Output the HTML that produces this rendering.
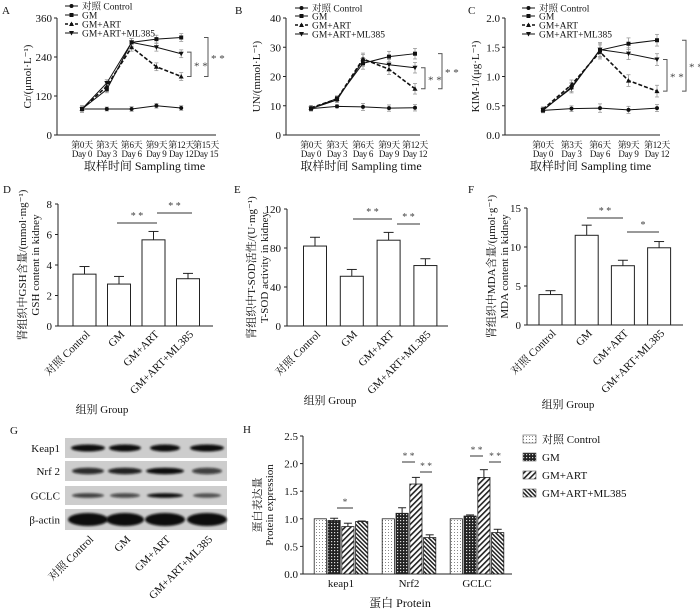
<!DOCTYPE html>
<html><head><meta charset="utf-8"><style>
html,body{margin:0;padding:0;background:#fff;}
svg{display:block;font-family:"Liberation Serif","Noto Serif CJK SC","Noto Sans CJK SC",serif;}
</style></head><body>
<svg id="fig" width="700" height="611" viewBox="0 0 700 611" xmlns="http://www.w3.org/2000/svg">
<defs>
<pattern id="pDot" width="3" height="3" patternUnits="userSpaceOnUse"><rect width="3" height="3" fill="#fff"/><rect x="1" y="1" width="1" height="1" fill="#888"/></pattern>
<pattern id="pCheck" width="3" height="3" patternUnits="userSpaceOnUse"><rect width="3" height="3" fill="#222"/><rect x="1" y="1" width="1.2" height="1.2" fill="#ddd"/></pattern>
<pattern id="pFwd" width="4" height="4" patternUnits="userSpaceOnUse" patternTransform="rotate(45)"><rect width="4" height="4" fill="#fff"/><rect width="1.6" height="4" fill="#222"/></pattern>
<pattern id="pBack" width="3" height="3" patternUnits="userSpaceOnUse" patternTransform="rotate(-45)"><rect width="3" height="3" fill="#fff"/><rect width="1.5" height="3" fill="#222"/></pattern>
<filter id="blur" x="-20%" y="-60%" width="140%" height="220%"><feGaussianBlur stdDeviation="1.1"/></filter>
</defs>
</svg>
<script>
// ---------- Panel A data (Cr) ----------
const dayLabelsCn = ['第0天','第3天','第6天','第9天','第12天','第15天'];
const dayLabelsEn = ['Day 0','Day 3','Day 6','Day 9','Day 12','Day 15'];
const seriesNames = ['对照 Control','GM','GM+ART','GM+ART+ML385'];
const crTicks = [0,120,240,360];
const crControl = [80,80,80,90,83];
const crGM = [80,140,285,295,300];
const crART = [80,150,270,210,180];
const crML = [80,160,285,270,250];
const crErr = [10,10,12,12,12];
// ---------- Panel B data (UN) ----------
const unTicks = [0,10,20,30,40];
const unControl = [9,9.8,9.6,9.2,9.3];
const unGM = [9,12.5,24.5,26.8,27.8];
const unART = [9.3,12.3,26,22.5,15.8];
const unML = [9,12,25.5,24,23];
const unErr = [0.8,0.9,2,1.8,1.8];
// ---------- Panel C data (KIM-1) ----------
const kimTicks = [0,0.5,1.0,1.5,2.0];
const kimControl = [0.42,0.45,0.46,0.43,0.46];
const kimGM = [0.42,0.82,1.45,1.56,1.62];
const kimART = [0.44,0.86,1.42,0.93,0.75];
const kimML = [0.43,0.80,1.46,1.39,1.29];
const kimErr = [0.04,0.08,0.12,0.1,0.1];
// ---------- Bar panels ----------
const groups = ['对照 Control','GM','GM+ART','GM+ART+ML385'];
const gshTicks = [0,2,4,6,8];
const gshValues = [3.4,2.75,5.65,3.1];
const gshErrors = [0.5,0.5,0.55,0.35];
const sodTicks = [0,40,80,120];
const sodValues = [82,51,88,62];
const sodErrors = [9,7,8,7];
const mdaTicks = [0,5,10,15];
const mdaValues = [3.9,11.5,7.6,9.9];
const mdaErrors = [0.5,1.3,0.7,0.8];
// ---------- Panel H ----------
const proteins = ['keap1','Nrf2','GCLC'];
const protTicks = [0,0.5,1.0,1.5,2.0,2.5];
const protControl = [1.0,1.0,1.0];
const protGM = [0.97,1.1,1.05];
const protART = [0.86,1.63,1.75];
const protML = [0.95,0.66,0.75];
const protErrGM = [0.04,0.1,0.02];
const protErrART = [0.06,0.12,0.14];
const protErrML = [0.01,0.05,0.06];

const NS='http://www.w3.org/2000/svg';
const svg=document.getElementById('fig');
function mk(tag,attrs,name,parent){
  const el=document.createElementNS(NS,tag);
  for(const k in attrs) el.setAttribute(k,attrs[k]);
  
  
  (parent||svg).appendChild(el);
  return el;
}
function txt(x,y,s,name,size,anchor,extra){
  const a={x:x,y:y,'font-size':size||10,'text-anchor':anchor||'middle',fill:'#111'};
  if(extra) for(const k in extra) a[k]=extra[k];
  const t=mk('text',a,name);
  t.textContent=s;
  return t;
}
function line(x1,y1,x2,y2,name,col,w,dash){
  const a={x1:x1,y1:y1,x2:x2,y2:y2,stroke:col||'#222','stroke-width':w||1};
  if(dash) a['stroke-dasharray']=dash;
  return mk('line',a,name);
}
function marker(x,y,k,name){
  if(k===0) return mk('circle',{cx:x,cy:y,r:2,fill:'#111'},name);
  if(k===1) return mk('rect',{x:x-2,y:y-2,width:4,height:4,fill:'#111'},name);
  if(k===2) return mk('polygon',{points:`${x},${y-2.5} ${x-2.5},${y+2} ${x+2.5},${y+2}`,fill:'#111'},name);
  return mk('polygon',{points:`${x},${y+2.5} ${x-2.5},${y-2} ${x+2.5},${y-2}`,fill:'#111'},name);
}

function lineChart(c){
  const ys=v=>c.yBot-(v/c.max)*(c.yBot-c.yTop);
  const xs=i=>c.x0+c.dx*i;
  txt(c.letterX,14,c.letter,'panel-label-'+c.letter,11,'start');
  line(c.axX,c.yTop,c.axX,c.yBot,'y-axis-'+c.letter);
  line(c.axX,c.yBot,c.axEnd,c.yBot,'x-axis-'+c.letter);
  c.ticks.forEach(t=>{
    line(c.axX-3,ys(t),c.axX,ys(t),'y-tick');
    txt(c.axX-5,ys(t)+4,c.fmt(t),'y-tick-label',11,'end');
  });
  for(let i=0;i<c.nDays;i++){
    txt(xs(i),148,dayLabelsCn[i],'x-tick-label-cn',9,'middle',{'letter-spacing':'-0.3'});
    txt(xs(i),157,dayLabelsEn[i],'x-tick-label-en',9,'middle',{'letter-spacing':'-0.3'});
  }
  txt((c.axX+c.axEnd)/2+8,170,'取样时间  Sampling time','x-axis-title',12);
  txt(0,0,c.ylabel,'y-axis-title',11,'middle',{transform:`translate(${c.axX-26},${(c.yTop+c.yBot)/2}) rotate(-90)`});
  const series=[c.s0,c.s1,c.s2,c.s3];
  const names=['control-line','gm-line','gm-art-line','gm-art-ml385-line'];
  series.forEach((s,k)=>{
    s.forEach((v,i)=>{
      const e=c.err[i]*(k===0?0.6:1);
      line(xs(i),ys(v+e),xs(i),ys(v-e),'error-bar','#999',0.8);
      line(xs(i)-2,ys(v+e),xs(i)+2,ys(v+e),'error-cap','#999',0.8);
      line(xs(i)-2,ys(v-e),xs(i)+2,ys(v-e),'error-cap','#999',0.8);
    });
  });
  series.forEach((s,k)=>{
    const pts=s.map((v,i)=>xs(i)+','+ys(v)).join(' ');
    const a={points:pts,fill:'none',stroke:'#111','stroke-width':k===2?1.6:1};
    if(k===2) a['stroke-dasharray']='4,2';
    mk('polyline',a,names[k]);
    s.forEach((v,i)=>marker(xs(i),ys(v),k,names[k]+'-point'));
  });
  seriesNames.forEach((n,k)=>{
    const y=c.legY[k];
    line(c.legX,y,c.legX+13,y,'legend-line','#111',k===2?1.6:1,k===2?'3,2':null);
    marker(c.legX+6.5,y,k,'legend-marker');
    txt(c.legX+17,y+3.5,n,'legend-entry',9.5,'start');
  });
  c.brackets.forEach(b=>{
    const y1=ys(b[0]),y2=ys(b[1]);
    mk('polyline',{points:`${b[2]-4},${y1} ${b[2]},${y1} ${b[2]},${y2} ${b[2]-4},${y2}`,fill:'none',stroke:'#555','stroke-width':1},'significance-bracket');
    txt(b[2]+3,(y1+y2)/2+5,'* *','significance-label',11,'start',{fill:'#444'});
  });
}

lineChart({letter:'A',letterX:2,axX:57,axEnd:216,yTop:18,yBot:135,max:360,ticks:crTicks,fmt:t=>String(t),
  x0:82,dx:24.8,nDays:6,ylabel:'Cr/(μmol·L⁻¹)',s0:crControl,s1:crGM,s2:crART,s3:crML,err:crErr,
  legX:65,legY:[6,15,24,33],brackets:[[255,180,191],[300,180,208]]});
lineChart({letter:'B',letterX:235,axX:286,axEnd:420,yTop:18,yBot:135,max:40,ticks:unTicks,fmt:t=>String(t),
  x0:311,dx:26,nDays:5,ylabel:'UN/(mmol·L⁻¹)',s0:unControl,s1:unGM,s2:unART,s3:unML,err:unErr,
  legX:295,legY:[8,16,25,34],brackets:[[23,15.8,425],[27.8,15.8,442]]});
lineChart({letter:'C',letterX:468,axX:505,axEnd:660,yTop:18,yBot:135,max:2,ticks:kimTicks,fmt:t=>t.toFixed(1),
  x0:543,dx:28.5,nDays:5,ylabel:'KIM-1/(μg·L⁻¹)',s0:kimControl,s1:kimGM,s2:kimART,s3:kimML,err:kimErr,
  legX:522,legY:[8,16,25,34],brackets:[[1.29,0.75,667],[1.62,0.75,686]]});

function barChart(c){
  const ys=v=>c.yBot-(v/c.max)*(c.yBot-c.yTop);
  const bx=i=>c.x0+c.dx*i;
  txt(c.letterX,c.letterY,c.letter,'panel-label-'+c.letter,11,'start');
  line(c.axX,c.yTop,c.axX,c.yBot,'y-axis-'+c.letter);
  line(c.axX,c.yBot,c.axEnd,c.yBot,'x-axis-'+c.letter);
  c.ticks.forEach(t=>{
    line(c.axX-3,ys(t),c.axX,ys(t),'y-tick');
    txt(c.axX-6,ys(t)+4,String(t),'y-tick-label',11,'end');
  });
  c.values.forEach((v,i)=>{
    const cx=bx(i),e=c.errors[i];
    line(cx,ys(v),cx,ys(v+e),'error-bar','#222',1);
    line(cx-5,ys(v+e),cx+5,ys(v+e),'error-cap','#222',1);
    mk('rect',{x:cx-11.5,y:ys(v),width:23,height:c.yBot-ys(v),fill:'#fff',stroke:'#222','stroke-width':1},'bar-'+c.letter+'-'+i);
    txt(0,0,groups[i],'x-tick-label',11,'end',{transform:`translate(${cx+6},${c.yBot+9}) rotate(-45)`});
  });
  c.sig.forEach(s=>{
    line(s[0],s[2],s[1],s[2],'significance-line','#333',1);
    txt((s[0]+s[1])/2,s[2]-4,s[3],'significance-label',10,'middle',{fill:'#444'});
  });
  txt(0,0,c.yl1,'y-axis-title-cn',11,'middle',{transform:`translate(${c.axX-32},${(c.yTop+c.yBot)/2}) rotate(-90)`});
  txt(0,0,c.yl2,'y-axis-title-en',11,'middle',{transform:`translate(${c.axX-19},${(c.yTop+c.yBot)/2}) rotate(-90)`});
  txt(c.gx,c.gy,'组别 Group','x-axis-title',11);
}
barChart({letter:'D',letterX:3,letterY:193,axX:58,axEnd:213,yTop:204,yBot:326,max:8,ticks:gshTicks,
  x0:84.5,dx:34.5,values:gshValues,errors:gshErrors,
  sig:[[117,157,223,'* *'],[157,192,213,'* *']],yl1:'肾组织中GSH含量/(mmol·mg⁻¹)',yl2:'GSH content in kidney',gx:102,gy:413});
barChart({letter:'E',letterX:234,letterY:193,axX:287,axEnd:448,yTop:209,yBot:326,max:120,ticks:sodTicks,
  x0:315,dx:36.8,values:sodValues,errors:sodErrors,
  sig:[[353,392,219,'* *'],[397,420,224,'* *']],yl1:'肾组织中T-SOD活性/(U·mg⁻¹)',yl2:'T-SOD activity in kidney',gx:330,gy:404});
barChart({letter:'F',letterX:468,letterY:193,axX:527,axEnd:683,yTop:208,yBot:325,max:15,ticks:mdaTicks,
  x0:550.5,dx:36.2,values:mdaValues,errors:mdaErrors,
  sig:[[587,623,218,'* *'],[627,659,232,'*']],yl1:'肾组织中MDA含量/(μmol·g⁻¹)',yl2:'MDA content in kidney',gx:568,gy:408});

// ---------- Panel G: western blot ----------
txt(10,434,'G','panel-label-G',11,'start');
const blotRows=['Keap1','Nrf 2','GCLC','β-actin'];
const blotY=[438,461,486,509];
const blotH=[20,20,19,21];
const laneX=[88,125,165,207];
const bandI=[[1,1,1,1],[0.85,0.9,1,0.75],[0.75,0.7,1,0.6],[1,1,1,1]];
const bandW=[[34,32,30,34],[32,34,38,30],[32,30,36,28],[40,38,40,40]];
const bandT=[7,6.5,4.5,13];
blotRows.forEach((r,j)=>{
  mk('rect',{x:65,y:blotY[j],width:162,height:blotH[j],fill:'#cdcdcd'},'blot-row-'+j);
  txt(60,blotY[j]+blotH[j]/2+4,r,'blot-label',11,'end');
  laneX.forEach((lx,i)=>{
    mk('ellipse',{cx:lx,cy:blotY[j]+blotH[j]/2,rx:bandW[j][i]/2,ry:bandT[j]/2,fill:'#0a0a0a','fill-opacity':bandI[j][i],filter:'url(#blur)'},'blot-band');
  });
});
groups.forEach((g,i)=>txt(0,0,g,'blot-lane-label',11,'end',{transform:`translate(${laneX[i]+6},${540}) rotate(-45)`}));

// ---------- Panel H ----------
txt(243,433,'H','panel-label-H',11,'start');
const hX=303,hEnd=512,hTop=436,hBot=574,hMax=2.5;
const hy=v=>hBot-(v/hMax)*(hBot-hTop);
const gc=i=>341+68*i;
line(hX,hTop,hX,hBot,'y-axis-H');
line(hX,hBot,hEnd,hBot,'x-axis-H');
protTicks.forEach(t=>{
  line(hX-3,hy(t),hX,hy(t),'y-tick');
  txt(hX-5,hy(t)+4,t.toFixed(1),'y-tick-label',11,'end');
});
const pSeries=[protControl,protGM,protART,protML];
const pErr=[null,protErrGM,protErrART,protErrML];
const fills=['url(#pDot)','url(#pCheck)','url(#pFwd)','url(#pBack)'];
const bw=12.2,step=13.8;
proteins.forEach((p,i)=>{
  pSeries.forEach((s,k)=>{
    const x=gc(i)-2*step+k*step+0.8;
    const v=s[i];
    if(pErr[k]){
      const e=pErr[k][i];
      line(x+bw/2,hy(v),x+bw/2,hy(v+e),'error-bar','#222',1);
      line(x+bw/2-4,hy(v+e),x+bw/2+4,hy(v+e),'error-cap','#222',1);
    }
    mk('rect',{x:x,y:hy(v),width:bw,height:hBot-hy(v),fill:fills[k],stroke:'#222','stroke-width':0.8},'bar-'+p+'-'+k);
  });
  txt(gc(i),587,p,'x-tick-label',11);
});
[[337,353,508,'*'],[402,415,462,'* *'],[420,432,472,'* *'],[470,483,456,'* *'],[489,501,462,'* *']].forEach(s=>{
  line(s[0],s[2],s[1],s[2],'significance-line','#333',1);
  txt((s[0]+s[1])/2,s[2]-3,s[3],'significance-label',9.5,'middle',{fill:'#444'});
});
txt(400,607,'蛋白  Protein','x-axis-title',12);
txt(0,0,'蛋白表达量','y-axis-title-cn',11,'middle',{transform:`translate(261,${(hTop+hBot)/2}) rotate(-90)`});
txt(0,0,'Protein expression','y-axis-title-en',11,'middle',{transform:`translate(273,${(hTop+hBot)/2}) rotate(-90)`});
seriesNames.forEach((n,k)=>{
  const y=439+18*k;
  mk('rect',{x:523,y:y-4,width:13,height:8,fill:fills[k],stroke:'#555','stroke-width':0.6},'legend-swatch');
  txt(542,y+4,n,'legend-entry',11,'start');
});
</script>
</body></html>
